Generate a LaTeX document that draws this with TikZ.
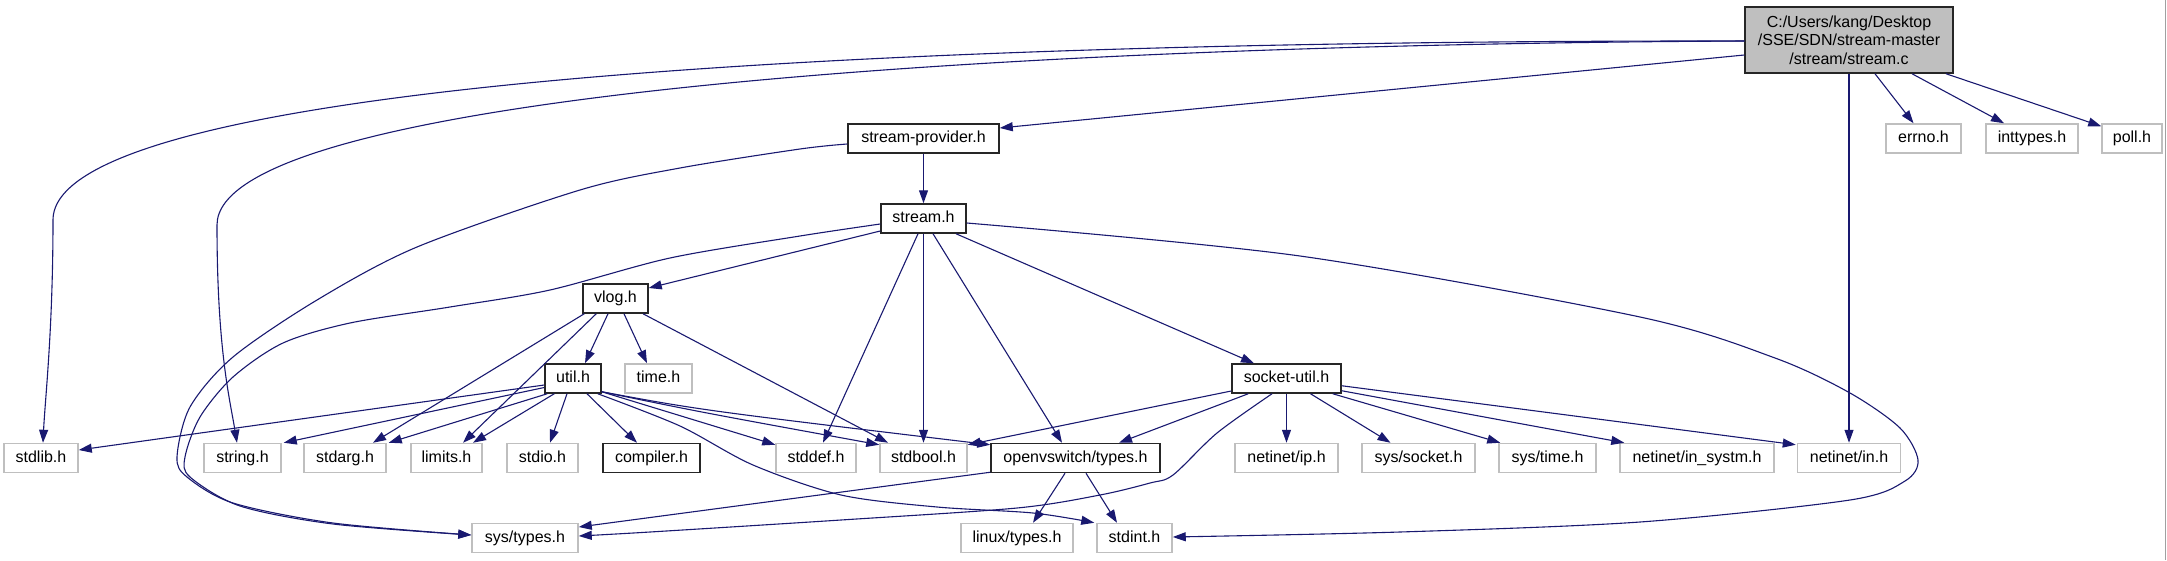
\documentclass[tikz,border=0pt]{standalone}
\usepackage{fontspec}
\setmainfont{Liberation Sans}
\usetikzlibrary{arrows.meta}
\definecolor{navy}{HTML}{191970}
\definecolor{boxgray}{HTML}{BFBFBF}
\definecolor{framegray}{HTML}{A0A0A0}
\tikzset{
  base/.style={rectangle, inner sep=0pt, minimum height=29pt,
    font=\fontsize{16}{18.5}\selectfont, text height=11.5pt, text depth=3.5pt},
  doc/.style={base, draw=black!85, line width=1.5pt, fill=white},
  sys/.style={base, draw=boxgray, line width=1.5pt, fill=white},
  edge/.style={draw=navy, line width=1.1pt, -{Triangle[length=13pt,width=9pt]}},
}
\begin{document}
\begin{tikzpicture}[x=1pt,y=-1pt]
\useasboundingbox (0,0) rectangle (2167,560);
\draw[framegray, line width=1.5pt] (2165.5,0) -- (2165.5,560);

% nodes
\node[doc, fill=boxgray, minimum width=208pt, minimum height=66pt, align=center,
      text height=, text depth=] (root) at (1849,40)
  {C:/Users/kang/Desktop\\/SSE/SDN/stream-master\\/stream/stream.c};
\node[sys, minimum width=75pt] (errno) at (1923.5,138.5) {errno.h};
\node[sys, minimum width=92pt] (inttypes) at (2032,138.5) {inttypes.h};
\node[sys, minimum width=60pt] (poll) at (2132,138.5) {poll.h};
\node[doc, minimum width=151pt] (sp) at (923.5,138.5) {stream-provider.h};
\node[doc, minimum width=85pt] (stream) at (923.5,218.5) {stream.h};
\node[doc, minimum width=65pt] (vlog) at (615.5,298.5) {vlog.h};
\node[doc, minimum width=56pt] (util) at (573,378.5) {util.h};
\node[sys, minimum width=67pt] (time) at (658.5,378.5) {time.h};
\node[doc, minimum width=109pt] (su) at (1286.5,378.5) {socket-util.h};

\node[sys, minimum width=74pt] (stdlib) at (41,458) {stdlib.h};
\node[sys, minimum width=77pt] (string) at (242.5,458) {string.h};
\node[sys, minimum width=82pt] (stdarg) at (345,458) {stdarg.h};
\node[sys, minimum width=71pt] (limits) at (446.5,458) {limits.h};
\node[sys, minimum width=71pt] (stdio) at (542.5,458) {stdio.h};
\node[doc, minimum width=97pt] (compiler) at (651.5,458) {compiler.h};
\node[sys, minimum width=80pt] (stddef) at (816,458) {stddef.h};
\node[sys, minimum width=87pt] (stdbool) at (923.5,458) {stdbool.h};
\node[doc, minimum width=169pt] (ovs) at (1075.5,458) {openvswitch/types.h};
\node[sys, minimum width=103pt] (netip) at (1286.5,458) {netinet/ip.h};
\node[sys, minimum width=113pt] (syssocket) at (1418.5,458) {sys/socket.h};
\node[sys, minimum width=97pt] (systime) at (1547.5,458) {sys/time.h};
\node[sys, minimum width=154pt] (insystm) at (1697,458) {netinet/in\_systm.h};
\node[sys, minimum width=103pt] (netin) at (1849,458) {netinet/in.h};

\node[sys, minimum width=106pt] (systypes) at (525,538) {sys/types.h};
\node[sys, minimum width=112pt] (linux) at (1017,538) {linux/types.h};
\node[sys, minimum width=75pt] (stdint) at (1134.5,538) {stdint.h};

% edges from root
\draw[edge] ([yshift=-1pt]root.west) .. controls (800,40) and (53,90) .. (53,220)
  .. controls (53,330) and (45,400) .. ([xshift=2pt]stdlib.north);
\draw[edge] ([yshift=-1pt]root.west) .. controls (950,45) and (217,100) .. (217,225)
  .. controls (217,350) and (230,400) .. ([xshift=-5.5pt]string.north);
\draw[edge] ([yshift=-15pt]root.west) -- ([yshift=10.5pt]sp.east);
\draw[edge] ([xshift=26pt]root.south) -- ([xshift=-10pt]errno.north);
\draw[edge] ([xshift=63pt]root.south) -- ([xshift=-28pt]inttypes.north);
\draw[edge] ([xshift=97pt]root.south) -- ([yshift=-3pt]poll.north west);
\draw[edge] (root.south) -- (netin.north);

% stream-provider.h
\draw[edge] (sp.south) -- (stream.north);
\draw[edge] plot[smooth] coordinates {([yshift=-5.5pt]sp.west) (800,149) (680,168) (580,190) (417,247)
  (317,300) (233,357) (190,407) (177,457) (187,477) (233,503) (333,523) ([yshift=3pt]systypes.west)};

% stream.h
\draw[edge] ([yshift=-12.5pt]stream.west) -- ([yshift=10.5pt]vlog.east);
\draw[edge] plot[smooth] coordinates {([yshift=-5.5pt]stream.west) (800,236) (670,258) (550,290) (450,307)
  (350,323) (283,343) (233,377) (200,417) (185,457) (190,477) (240,506) (333,524) ([yshift=3pt]systypes.west)};
\draw[edge] ([xshift=-5.5pt]stream.south) -- ([xshift=7pt]stddef.north);
\draw[edge] (stream.south) -- (stdbool.north);
\draw[edge] ([xshift=9.5pt]stream.south) -- ([xshift=-13.5pt]ovs.north);
\draw[edge] ([xshift=32.5pt]stream.south) -- ([xshift=-32.5pt]su.north);
\draw[edge] plot[smooth] coordinates {([yshift=-4.5pt]stream.east) (1300,256) (1640,317) (1775,358) (1850,393)
  (1900,428) (1918,460) (1905,481) (1850,500) (1640,522) (1400,532) ([yshift=1pt]stdint.east)};

% vlog.h
\draw[edge] ([xshift=-7.5pt]vlog.south) -- ([xshift=12pt]util.north);
\draw[edge] ([xshift=8.5pt]vlog.south) -- ([xshift=-11.5pt]time.north);
\draw[edge] ([xshift=2pt]vlog.south west) -- ([xshift=28pt]stdarg.north);
\draw[edge] ([xshift=14pt]vlog.south west) -- ([xshift=16.5pt]limits.north);
\draw[edge] ([xshift=27.5pt]vlog.south) -- ([xshift=-35.5pt]stdbool.north);

% util.h
\draw[edge] ([yshift=-6.5pt]util.west) -- ([yshift=8pt]stdlib.east);
\draw[edge] ([yshift=-9pt]util.west) -- ([xshift=2pt]string.north east);
\draw[edge] ([xshift=3pt]util.south west) -- ([xshift=2pt]stdarg.north east);
\draw[edge] ([xshift=10pt]util.south west) -- ([xshift=26.5pt]limits.north);
\draw[edge] ([xshift=-6pt]util.south) -- ([xshift=7.5pt]stdio.north);
\draw[edge] ([xshift=14pt]util.south) -- ([xshift=-14.5pt]compiler.north);
\draw[edge] ([yshift=2pt]util.south east) -- ([yshift=-2pt]stddef.north west);
\draw[edge] ([yshift=2pt]util.south east) .. controls (700,412) .. ([yshift=-2pt]stdbool.north west);
\draw[edge] ([yshift=2pt]util.south east) .. controls (700,410) .. ([yshift=-2pt]ovs.north west);
\draw[edge] plot[smooth] coordinates {([xshift=-4pt]util.south east) (680,426) (753,465) (841,495) (937,507)
  (1033,513) ([xshift=-2pt]stdint.north west)};

% socket-util.h
\draw[edge] ([yshift=-12.5pt]su.west) -- ([yshift=-2pt]stdbool.north east);
\draw[edge] ([xshift=17pt]su.south west) -- ([xshift=43.5pt]ovs.north);
\draw[edge] plot[smooth] coordinates {([xshift=-14.5pt]su.south) (1217,433) (1173,475) (1150,483) (1100,495)
  (1017,508) (841,520) (650,532) ([yshift=2pt]systypes.east)};
\draw[edge] (su.south) -- (netip.north);
\draw[edge] ([xshift=24pt]su.south) -- ([xshift=-28pt]syssocket.north);
\draw[edge] ([xshift=-9pt]su.south east) -- ([xshift=2pt]systime.north west);
\draw[edge] ([yshift=3pt]su.south east) -- ([xshift=5pt]insystm.north west);
\draw[edge] ([yshift=8pt]su.south east) -- ([xshift=-1pt,yshift=-2pt]netin.north west);

% openvswitch/types.h
\draw[edge] ([yshift=1pt]ovs.south west) -- ([yshift=11pt]systypes.east);
\draw[edge] ([xshift=-10.5pt]ovs.south) -- ([xshift=16pt]linux.north);
\draw[edge] ([xshift=10.5pt]ovs.south) -- ([xshift=-17.5pt]stdint.north);
\end{tikzpicture}
\end{document}
